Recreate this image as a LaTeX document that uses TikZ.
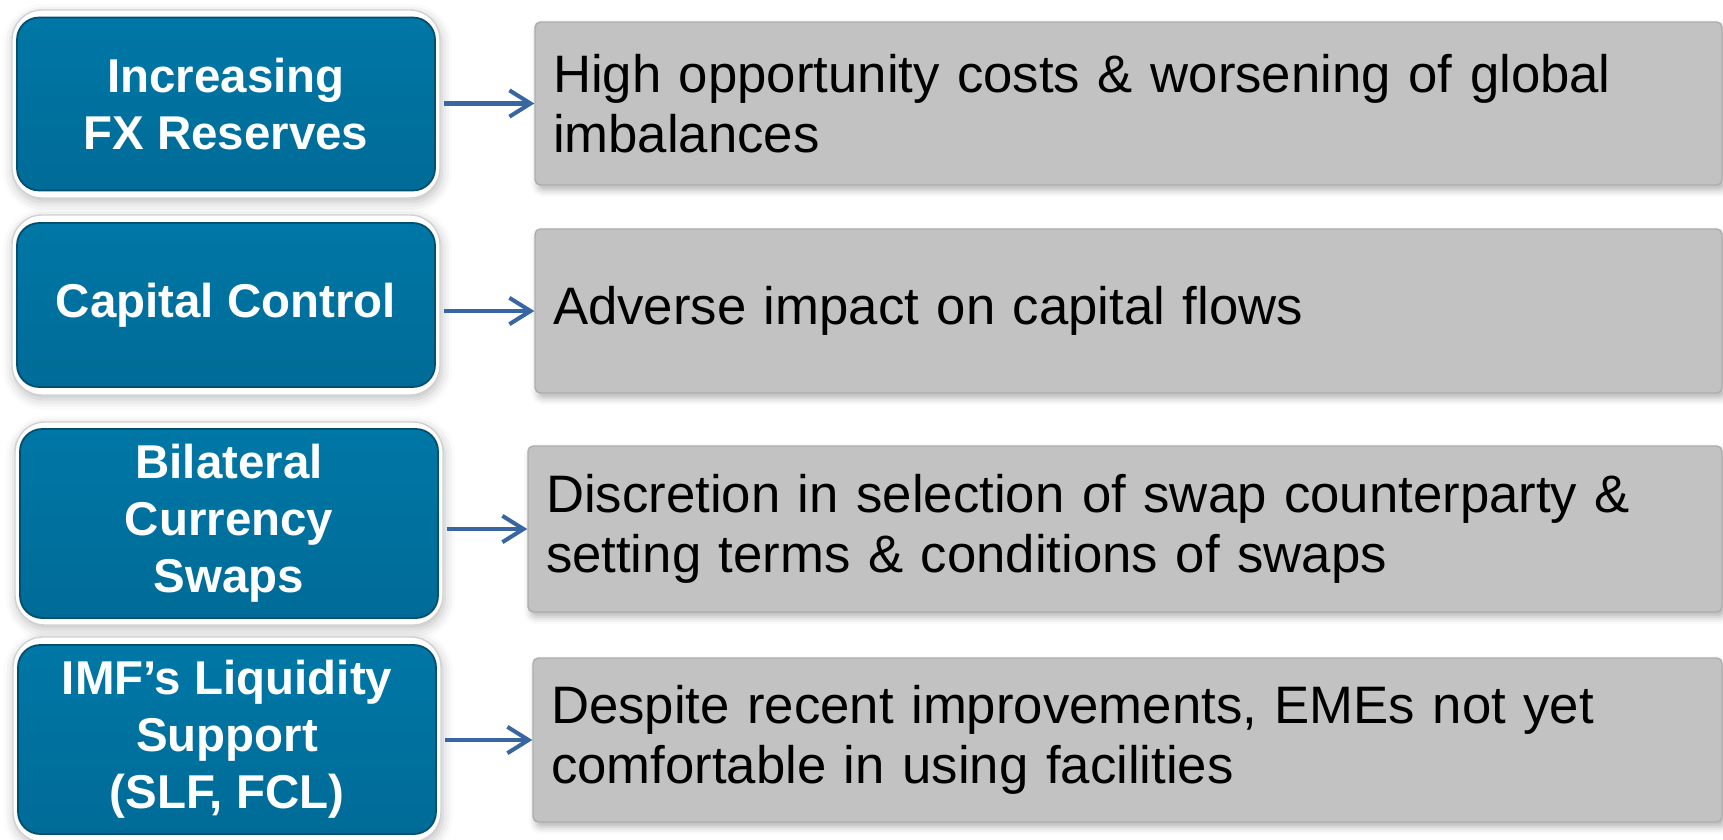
\documentclass[tikz,border=0pt]{standalone}
\usepackage{fontspec}
\setmainfont{Liberation Sans}
\usetikzlibrary{arrows.meta, shadows.blur}
\definecolor{captop}{RGB}{0,119,166}
\definecolor{capbot}{RGB}{0,107,151}
\definecolor{capedge}{RGB}{0,78,112}
\definecolor{effgray}{RGB}{194,194,194}
\definecolor{arrblue}{RGB}{55,102,162}
\tikzset{%
    rim/.style={rectangle, rounded corners=8.5pt, fill=white, draw=black!18, line width=0.4pt,
        blur shadow={shadow xshift=0.4pt, shadow yshift=-1.2pt, shadow opacity=25, shadow blur radius=3pt}},
    cause/.style={rectangle, rounded corners=6.3pt, top color=captop, bottom color=capbot,
        draw=capedge, line width=0.5pt, text=white, align=center, inner sep=0pt,
        font=\bfseries\fontsize{13.5}{16.2}\selectfont, minimum width=4.18cm},
    effect/.style={rectangle, rounded corners=1.5pt, fill=effgray, draw=black!32, line width=0.4pt,
        align=left, inner xsep=0.18cm, inner ysep=0pt, font=\fontsize{15}{17}\selectfont,
        blur shadow={shadow xshift=0.8pt, shadow yshift=-1.4pt, shadow opacity=30, shadow blur radius=2pt}},
    arr/.style={line width=1.15pt, draw=arrblue, -{Straight Barb[length=6pt,width=7.5pt]}, shorten <=0.03cm},
}
\begin{document}
\begin{tikzpicture}
    \useasboundingbox (0,0) rectangle (17.23,8.39);
    \node[rim, minimum width=4.28cm, minimum height=1.88cm] (fxrf) at (2.26,7.35) {};
    \node[cause, minimum height=1.73cm] (fxr) at (fxrf) {Increasing\\FX Reserves};
    \node[rim, minimum width=4.28cm, minimum height=1.80cm] (capf) at (2.26,5.34) {};
    \node[cause, minimum height=1.64cm] (cap) at (capf) {Capital Control};
    \node[rim, minimum width=4.28cm, minimum height=2.03cm] (swpf) at (2.29,3.155) {};
    \node[cause, minimum height=1.89cm] (swp) at (swpf) {Bilateral\\Currency\\Swaps};
    \node[rim, minimum width=4.28cm, minimum height=2.05cm] (imff) at (2.27,0.995) {};
    \node[cause, minimum height=1.89cm] (imf) at (imff) {IMF’s Liquidity\\Support\\(SLF, FCL)};
    \node[effect, text width=11.51cm, minimum height=1.63cm] (cost) at (11.285,7.355)
        {High opportunity costs \& worsening of global\\imbalances};
    \node[effect, text width=11.51cm, minimum height=1.64cm] (flow) at (11.285,5.28)
        {Adverse impact on capital flows};
    \node[effect, text width=11.58cm, minimum height=1.66cm] (disc) at (11.25,3.10)
        {Discretion in selection of swap counterparty \&\\setting terms \& conditions of swaps};
    \node[effect, text width=11.53cm, minimum height=1.64cm] (use) at (11.275,0.99)
        {Despite recent improvements, EMEs not yet\\comfortable in using facilities};
    \draw[arr] (fxrf.east |- cost.west) -- (cost.west);
    \draw[arr] (capf.east |- flow.west) -- (flow.west);
    \draw[arr] (swpf.east |- disc.west) -- (disc.west);
    \draw[arr] (imff.east |- use.west) -- (use.west);
\end{tikzpicture}
\end{document}
